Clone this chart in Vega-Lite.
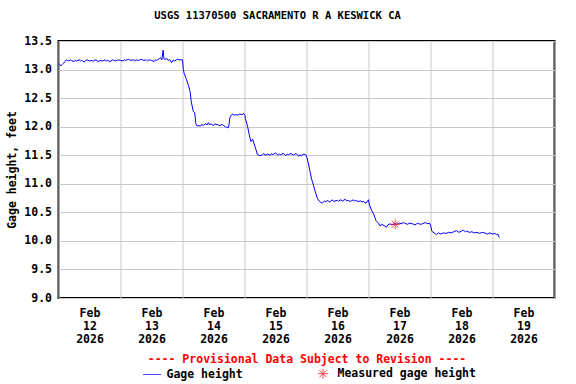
{
  "$schema": "https://vega.github.io/schema/vega-lite/v6.json",
  "width": 496,
  "height": 257,
  "autosize": {"type": "none"},
  "padding": {"left": 58.5, "top": 41, "right": 21, "bottom": 86},
  "title": {"text": "USGS 11370500 SACRAMENTO R A KESWICK CA", "font": "DejaVu Sans Mono", "fontSize": 10.5, "fontWeight": "bold", "color": "black", "offset": 14, "dx": -29},
  "config": {
    "view": {"stroke": "black", "strokeWidth": 2},
    "axis": {"labelFont": "DejaVu Sans Mono", "labelFontSize": 11.5, "labelFontWeight": "bold", "labelColor": "black", "titleFont": "DejaVu Sans Mono", "titleFontSize": 11.5, "titleFontWeight": "bold", "titleColor": "black", "gridColor": "#c8c8c8", "gridWidth": 1, "gridOpacity": 1},
    "legend": {"labelFont": "DejaVu Sans Mono", "labelFontSize": 11.5, "labelFontWeight": "bold", "labelColor": "black"}
  },
  "datasets": {
    "gage": [
      {"t": "2026-02-12T00:00Z", "h": 13.10}, {"t": "2026-02-12T00:30Z", "h": 13.08}, {"t": "2026-02-12T01:00Z", "h": 13.07}, {"t": "2026-02-12T01:30Z", "h": 13.09},
      {"t": "2026-02-12T02:00Z", "h": 13.11}, {"t": "2026-02-12T02:30Z", "h": 13.14}, {"t": "2026-02-12T03:00Z", "h": 13.17}, {"t": "2026-02-12T03:30Z", "h": 13.16},
      {"t": "2026-02-12T04:00Z", "h": 13.15}, {"t": "2026-02-12T04:30Z", "h": 13.17}, {"t": "2026-02-12T05:00Z", "h": 13.16}, {"t": "2026-02-12T06:00Z", "h": 13.14},
      {"t": "2026-02-12T06:30Z", "h": 13.16}, {"t": "2026-02-12T07:00Z", "h": 13.15}, {"t": "2026-02-12T08:00Z", "h": 13.17}, {"t": "2026-02-12T08:30Z", "h": 13.15},
      {"t": "2026-02-12T09:00Z", "h": 13.16}, {"t": "2026-02-12T10:00Z", "h": 13.13}, {"t": "2026-02-12T10:30Z", "h": 13.16}, {"t": "2026-02-12T11:00Z", "h": 13.17},
      {"t": "2026-02-12T12:00Z", "h": 13.15}, {"t": "2026-02-12T13:00Z", "h": 13.16}, {"t": "2026-02-12T13:30Z", "h": 13.14}, {"t": "2026-02-12T14:00Z", "h": 13.17},
      {"t": "2026-02-12T15:00Z", "h": 13.16}, {"t": "2026-02-12T15:30Z", "h": 13.13}, {"t": "2026-02-12T16:00Z", "h": 13.16}, {"t": "2026-02-12T17:00Z", "h": 13.15},
      {"t": "2026-02-12T18:00Z", "h": 13.17}, {"t": "2026-02-12T18:30Z", "h": 13.15}, {"t": "2026-02-12T19:00Z", "h": 13.16}, {"t": "2026-02-12T20:00Z", "h": 13.14},
      {"t": "2026-02-12T21:00Z", "h": 13.17}, {"t": "2026-02-12T21:30Z", "h": 13.16}, {"t": "2026-02-12T22:00Z", "h": 13.15}, {"t": "2026-02-12T23:00Z", "h": 13.17},
      {"t": "2026-02-13T00:00Z", "h": 13.16}, {"t": "2026-02-13T01:00Z", "h": 13.15}, {"t": "2026-02-13T01:30Z", "h": 13.17}, {"t": "2026-02-13T02:00Z", "h": 13.16},
      {"t": "2026-02-13T03:00Z", "h": 13.18}, {"t": "2026-02-13T04:00Z", "h": 13.16}, {"t": "2026-02-13T05:00Z", "h": 13.17}, {"t": "2026-02-13T05:30Z", "h": 13.15},
      {"t": "2026-02-13T06:00Z", "h": 13.17}, {"t": "2026-02-13T07:00Z", "h": 13.16}, {"t": "2026-02-13T08:00Z", "h": 13.18}, {"t": "2026-02-13T09:00Z", "h": 13.16},
      {"t": "2026-02-13T10:00Z", "h": 13.17}, {"t": "2026-02-13T10:30Z", "h": 13.15}, {"t": "2026-02-13T11:00Z", "h": 13.17}, {"t": "2026-02-13T12:00Z", "h": 13.16},
      {"t": "2026-02-13T13:00Z", "h": 13.14}, {"t": "2026-02-13T13:30Z", "h": 13.17}, {"t": "2026-02-13T14:00Z", "h": 13.16}, {"t": "2026-02-13T15:00Z", "h": 13.19},
      {"t": "2026-02-13T15:30Z", "h": 13.21}, {"t": "2026-02-13T16:00Z", "h": 13.17}, {"t": "2026-02-13T16:30Z", "h": 13.34}, {"t": "2026-02-13T16:45Z", "h": 13.21},
      {"t": "2026-02-13T17:00Z", "h": 13.18}, {"t": "2026-02-13T18:00Z", "h": 13.19}, {"t": "2026-02-13T18:30Z", "h": 13.16}, {"t": "2026-02-13T19:00Z", "h": 13.18},
      {"t": "2026-02-13T19:45Z", "h": 13.12}, {"t": "2026-02-13T20:30Z", "h": 13.17}, {"t": "2026-02-13T21:00Z", "h": 13.15}, {"t": "2026-02-13T22:00Z", "h": 13.18},
      {"t": "2026-02-13T23:00Z", "h": 13.17}, {"t": "2026-02-13T23:45Z", "h": 13.17},
      {"t": "2026-02-14T00:00Z", "h": 13.17}, {"t": "2026-02-14T00:20Z", "h": 13.00}, {"t": "2026-02-14T00:40Z", "h": 12.93}, {"t": "2026-02-14T01:30Z", "h": 12.83},
      {"t": "2026-02-14T02:20Z", "h": 12.72}, {"t": "2026-02-14T03:00Z", "h": 12.60}, {"t": "2026-02-14T03:20Z", "h": 12.45}, {"t": "2026-02-14T04:10Z", "h": 12.27},
      {"t": "2026-02-14T04:45Z", "h": 12.24}, {"t": "2026-02-14T05:10Z", "h": 12.05}, {"t": "2026-02-14T05:40Z", "h": 12.01}, {"t": "2026-02-14T06:00Z", "h": 12.02},
      {"t": "2026-02-14T07:00Z", "h": 12.01}, {"t": "2026-02-14T07:30Z", "h": 12.04}, {"t": "2026-02-14T08:00Z", "h": 12.02}, {"t": "2026-02-14T09:00Z", "h": 12.05},
      {"t": "2026-02-14T09:30Z", "h": 12.03}, {"t": "2026-02-14T10:00Z", "h": 12.07}, {"t": "2026-02-14T10:30Z", "h": 12.03}, {"t": "2026-02-14T11:00Z", "h": 12.05},
      {"t": "2026-02-14T12:00Z", "h": 12.02}, {"t": "2026-02-14T12:30Z", "h": 12.05}, {"t": "2026-02-14T13:00Z", "h": 12.04}, {"t": "2026-02-14T14:00Z", "h": 12.03},
      {"t": "2026-02-14T14:30Z", "h": 12.01}, {"t": "2026-02-14T15:00Z", "h": 12.04}, {"t": "2026-02-14T16:00Z", "h": 12.02}, {"t": "2026-02-14T16:30Z", "h": 12.00},
      {"t": "2026-02-14T17:00Z", "h": 11.99}, {"t": "2026-02-14T17:40Z", "h": 11.98}, {"t": "2026-02-14T18:00Z", "h": 12.03}, {"t": "2026-02-14T18:20Z", "h": 12.16},
      {"t": "2026-02-14T19:00Z", "h": 12.21}, {"t": "2026-02-14T19:30Z", "h": 12.22}, {"t": "2026-02-14T20:00Z", "h": 12.20}, {"t": "2026-02-14T21:00Z", "h": 12.21},
      {"t": "2026-02-14T21:30Z", "h": 12.20}, {"t": "2026-02-14T22:00Z", "h": 12.22}, {"t": "2026-02-14T23:00Z", "h": 12.21}, {"t": "2026-02-14T23:40Z", "h": 12.23},
      {"t": "2026-02-15T00:10Z", "h": 12.20}, {"t": "2026-02-15T00:20Z", "h": 12.14}, {"t": "2026-02-15T01:10Z", "h": 12.01}, {"t": "2026-02-15T01:50Z", "h": 11.86},
      {"t": "2026-02-15T02:30Z", "h": 11.74}, {"t": "2026-02-15T03:10Z", "h": 11.78}, {"t": "2026-02-15T03:50Z", "h": 11.68}, {"t": "2026-02-15T04:30Z", "h": 11.59},
      {"t": "2026-02-15T05:00Z", "h": 11.51}, {"t": "2026-02-15T06:00Z", "h": 11.49}, {"t": "2026-02-15T07:00Z", "h": 11.51}, {"t": "2026-02-15T07:30Z", "h": 11.53},
      {"t": "2026-02-15T08:00Z", "h": 11.50}, {"t": "2026-02-15T09:00Z", "h": 11.52}, {"t": "2026-02-15T10:00Z", "h": 11.50}, {"t": "2026-02-15T10:30Z", "h": 11.53},
      {"t": "2026-02-15T11:00Z", "h": 11.51}, {"t": "2026-02-15T12:00Z", "h": 11.54}, {"t": "2026-02-15T13:00Z", "h": 11.50}, {"t": "2026-02-15T13:30Z", "h": 11.52},
      {"t": "2026-02-15T14:00Z", "h": 11.51}, {"t": "2026-02-15T15:00Z", "h": 11.53}, {"t": "2026-02-15T16:00Z", "h": 11.49}, {"t": "2026-02-15T16:30Z", "h": 11.52},
      {"t": "2026-02-15T17:00Z", "h": 11.51}, {"t": "2026-02-15T18:00Z", "h": 11.53}, {"t": "2026-02-15T19:00Z", "h": 11.50}, {"t": "2026-02-15T19:30Z", "h": 11.52},
      {"t": "2026-02-15T20:00Z", "h": 11.53}, {"t": "2026-02-15T21:00Z", "h": 11.48}, {"t": "2026-02-15T21:30Z", "h": 11.51}, {"t": "2026-02-15T22:00Z", "h": 11.49},
      {"t": "2026-02-15T23:00Z", "h": 11.52}, {"t": "2026-02-15T23:40Z", "h": 11.51},
      {"t": "2026-02-16T00:10Z", "h": 11.46}, {"t": "2026-02-16T00:40Z", "h": 11.37}, {"t": "2026-02-16T01:20Z", "h": 11.22}, {"t": "2026-02-16T02:00Z", "h": 11.08},
      {"t": "2026-02-16T02:40Z", "h": 10.98}, {"t": "2026-02-16T03:20Z", "h": 10.87}, {"t": "2026-02-16T04:10Z", "h": 10.75}, {"t": "2026-02-16T05:00Z", "h": 10.69},
      {"t": "2026-02-16T06:00Z", "h": 10.66}, {"t": "2026-02-16T07:00Z", "h": 10.70}, {"t": "2026-02-16T07:30Z", "h": 10.68}, {"t": "2026-02-16T08:00Z", "h": 10.71},
      {"t": "2026-02-16T09:00Z", "h": 10.68}, {"t": "2026-02-16T10:00Z", "h": 10.72}, {"t": "2026-02-16T10:30Z", "h": 10.69}, {"t": "2026-02-16T11:00Z", "h": 10.70},
      {"t": "2026-02-16T12:00Z", "h": 10.71}, {"t": "2026-02-16T12:30Z", "h": 10.69}, {"t": "2026-02-16T13:00Z", "h": 10.72}, {"t": "2026-02-16T14:00Z", "h": 10.70},
      {"t": "2026-02-16T15:00Z", "h": 10.73}, {"t": "2026-02-16T15:30Z", "h": 10.70}, {"t": "2026-02-16T16:00Z", "h": 10.71}, {"t": "2026-02-16T17:00Z", "h": 10.69},
      {"t": "2026-02-16T18:00Z", "h": 10.72}, {"t": "2026-02-16T18:30Z", "h": 10.70}, {"t": "2026-02-16T19:00Z", "h": 10.71}, {"t": "2026-02-16T20:00Z", "h": 10.69},
      {"t": "2026-02-16T21:00Z", "h": 10.70}, {"t": "2026-02-16T21:30Z", "h": 10.68}, {"t": "2026-02-16T22:00Z", "h": 10.69}, {"t": "2026-02-16T23:00Z", "h": 10.66},
      {"t": "2026-02-16T23:40Z", "h": 10.70},
      {"t": "2026-02-17T00:00Z", "h": 10.72}, {"t": "2026-02-17T00:20Z", "h": 10.63}, {"t": "2026-02-17T01:10Z", "h": 10.54}, {"t": "2026-02-17T02:10Z", "h": 10.45},
      {"t": "2026-02-17T02:50Z", "h": 10.36}, {"t": "2026-02-17T03:50Z", "h": 10.31}, {"t": "2026-02-17T04:30Z", "h": 10.26}, {"t": "2026-02-17T05:00Z", "h": 10.29},
      {"t": "2026-02-17T06:00Z", "h": 10.27}, {"t": "2026-02-17T07:00Z", "h": 10.24}, {"t": "2026-02-17T07:30Z", "h": 10.28}, {"t": "2026-02-17T08:20Z", "h": 10.30},
      {"t": "2026-02-17T09:00Z", "h": 10.28}, {"t": "2026-02-17T10:00Z", "h": 10.30}, {"t": "2026-02-17T11:00Z", "h": 10.29}, {"t": "2026-02-17T12:00Z", "h": 10.31},
      {"t": "2026-02-17T13:00Z", "h": 10.30}, {"t": "2026-02-17T13:30Z", "h": 10.33}, {"t": "2026-02-17T14:00Z", "h": 10.31}, {"t": "2026-02-17T15:00Z", "h": 10.29},
      {"t": "2026-02-17T16:00Z", "h": 10.31}, {"t": "2026-02-17T17:00Z", "h": 10.30}, {"t": "2026-02-17T18:00Z", "h": 10.28}, {"t": "2026-02-17T19:00Z", "h": 10.31},
      {"t": "2026-02-17T20:00Z", "h": 10.29}, {"t": "2026-02-17T21:00Z", "h": 10.30}, {"t": "2026-02-17T22:00Z", "h": 10.32}, {"t": "2026-02-17T23:00Z", "h": 10.30},
      {"t": "2026-02-17T23:40Z", "h": 10.31},
      {"t": "2026-02-18T00:10Z", "h": 10.25}, {"t": "2026-02-18T00:30Z", "h": 10.17}, {"t": "2026-02-18T01:40Z", "h": 10.13}, {"t": "2026-02-18T02:20Z", "h": 10.11},
      {"t": "2026-02-18T03:00Z", "h": 10.14}, {"t": "2026-02-18T04:00Z", "h": 10.12}, {"t": "2026-02-18T05:00Z", "h": 10.14}, {"t": "2026-02-18T06:00Z", "h": 10.13},
      {"t": "2026-02-18T07:00Z", "h": 10.15}, {"t": "2026-02-18T08:00Z", "h": 10.14}, {"t": "2026-02-18T09:00Z", "h": 10.16}, {"t": "2026-02-18T10:00Z", "h": 10.18},
      {"t": "2026-02-18T11:00Z", "h": 10.15}, {"t": "2026-02-18T12:00Z", "h": 10.17}, {"t": "2026-02-18T12:40Z", "h": 10.19}, {"t": "2026-02-18T13:30Z", "h": 10.16},
      {"t": "2026-02-18T14:00Z", "h": 10.17}, {"t": "2026-02-18T15:00Z", "h": 10.15}, {"t": "2026-02-18T16:00Z", "h": 10.16}, {"t": "2026-02-18T17:00Z", "h": 10.14},
      {"t": "2026-02-18T18:00Z", "h": 10.15}, {"t": "2026-02-18T19:00Z", "h": 10.13}, {"t": "2026-02-18T20:00Z", "h": 10.15}, {"t": "2026-02-18T21:00Z", "h": 10.14},
      {"t": "2026-02-18T22:00Z", "h": 10.12}, {"t": "2026-02-18T23:00Z", "h": 10.14},
      {"t": "2026-02-19T00:00Z", "h": 10.12}, {"t": "2026-02-19T01:00Z", "h": 10.13}, {"t": "2026-02-19T01:30Z", "h": 10.11}, {"t": "2026-02-19T02:00Z", "h": 10.12},
      {"t": "2026-02-19T02:40Z", "h": 10.06}
    ],
    "meas": [{"t": "2026-02-17T10:20Z", "h": 10.29}]
  },
  "layer": [
    {
      "data": {"name": "gage"},
      "mark": {"type": "line", "strokeWidth": 1},
      "encoding": {
        "x": {"field": "t", "type": "temporal",
          "scale": {"type": "utc", "domain": [{"year": 2026, "month": "feb", "date": 12, "utc": true}, {"year": 2026, "month": "feb", "date": 20, "utc": true}]},
          "axis": {"orient": "bottom", "grid": true, "labels": false, "ticks": false, "domain": false, "title": null,
            "values": [
              {"year": 2026, "month": "feb", "date": 12, "utc": true}, {"year": 2026, "month": "feb", "date": 13, "utc": true},
              {"year": 2026, "month": "feb", "date": 14, "utc": true}, {"year": 2026, "month": "feb", "date": 15, "utc": true},
              {"year": 2026, "month": "feb", "date": 16, "utc": true}, {"year": 2026, "month": "feb", "date": 17, "utc": true},
              {"year": 2026, "month": "feb", "date": 18, "utc": true}, {"year": 2026, "month": "feb", "date": 19, "utc": true},
              {"year": 2026, "month": "feb", "date": 20, "utc": true}]}},
        "y": {"field": "h", "type": "quantitative",
          "scale": {"domain": [9, 13.5], "nice": false, "zero": false},
          "axis": {"values": [9, 9.5, 10, 10.5, 11, 11.5, 12, 12.5, 13, 13.5], "format": ".1f", "grid": true, "ticks": false, "domain": false, "labelPadding": 7, "title": "Gage height, feet", "titlePadding": 6}},
        "color": {"datum": "Gage height", "scale": {"domain": ["Gage height", "Measured gage height"], "range": ["#0000ff", "#ff0000"]},
          "legend": {"orient": "none", "legendX": 84, "legendY": 323, "direction": "horizontal", "title": null, "symbolSize": 324, "symbolStrokeWidth": 1, "labelOffset": 5, "columnPadding": 70}}
      }
    },
    {
      "data": {"name": "meas"},
      "mark": {"type": "point", "filled": false, "strokeWidth": 1, "size": 324},
      "encoding": {
        "x": {"field": "t", "type": "temporal",
          "axis": {"orient": "bottom", "grid": false, "ticks": false, "domain": false, "labelPadding": 9, "labelLineHeight": 13, "labelBaseline": "top",
            "labelExpr": "[utcFormat(datum.value, '%b'), utcFormat(datum.value, '%d'), utcFormat(datum.value, '%Y')]",
            "title": "---- Provisional Data Subject to Revision ----", "titleColor": "#ff0000", "titlePadding": 9,
            "values": [
              {"year": 2026, "month": "feb", "date": 12, "hours": 12, "utc": true}, {"year": 2026, "month": "feb", "date": 13, "hours": 12, "utc": true},
              {"year": 2026, "month": "feb", "date": 14, "hours": 12, "utc": true}, {"year": 2026, "month": "feb", "date": 15, "hours": 12, "utc": true},
              {"year": 2026, "month": "feb", "date": 16, "hours": 12, "utc": true}, {"year": 2026, "month": "feb", "date": 17, "hours": 12, "utc": true},
              {"year": 2026, "month": "feb", "date": 18, "hours": 12, "utc": true}, {"year": 2026, "month": "feb", "date": 19, "hours": 12, "utc": true}]}},
        "y": {"field": "h", "type": "quantitative",
          "axis": {"values": [9, 9.5, 10, 10.5, 11, 11.5, 12, 12.5, 13, 13.5], "format": ".1f", "grid": true, "ticks": false, "domain": false, "labelPadding": 7, "title": "Gage height, feet", "titlePadding": 6}},
        "color": {"datum": "Measured gage height"},
        "shape": {"datum": "Measured gage height", "scale": {"domain": ["Gage height", "Measured gage height"], "range": ["stroke", "M-0.56,0L0.56,0M0,-0.56L0,0.56M-0.4,-0.4L0.4,0.4M-0.4,0.4L0.4,-0.4"]},
          "legend": {"orient": "none", "legendX": 84, "legendY": 323, "direction": "horizontal", "title": null, "symbolSize": 324, "symbolStrokeWidth": 1, "labelOffset": 5, "columnPadding": 70}}
      }
    }
  ],
  "resolve": {"axis": {"x": "independent"}}
}
